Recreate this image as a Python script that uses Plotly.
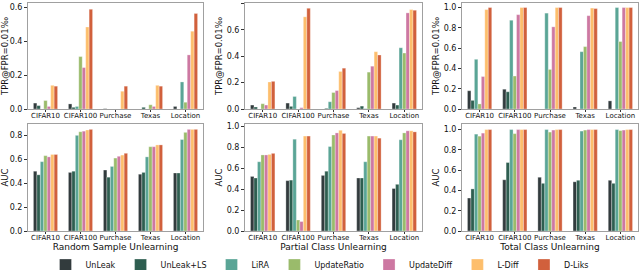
import plotly.graph_objects as go

datasets = ["CIFAR10", "CIFAR100", "Purchase", "Texas", "Location"]
methods = ["UnLeak", "UnLeak+LS", "LiRA", "UpdateRatio", "UpdateDiff", "L-Diff", "D-Liks"]
colors = ["#323b3d", "#2e5e50", "#5aa596", "#9abb6b", "#cd78a2", "#fdbe6c", "#d1603c"]

# values[method] -> list over datasets
rs_tpr = [
    [0.035, 0.03, 0.002, 0.0, 0.015],
    [0.02, 0.01, 0.0, 0.01, 0.0],
    [0.0, 0.015, 0.0, 0.0, 0.16],
    [0.05, 0.31, 0.0, 0.025, 0.04],
    [0.015, 0.245, 0.0, 0.015, 0.32],
    [0.14, 0.485, 0.105, 0.14, 0.46],
    [0.135, 0.59, 0.135, 0.135, 0.565],
]
rs_auc = [
    [0.50, 0.49, 0.51, 0.475, 0.485],
    [0.47, 0.50, 0.45, 0.49, 0.485],
    [0.58, 0.80, 0.54, 0.62, 0.765],
    [0.63, 0.83, 0.61, 0.705, 0.825],
    [0.62, 0.835, 0.625, 0.705, 0.85],
    [0.64, 0.845, 0.635, 0.72, 0.85],
    [0.64, 0.85, 0.65, 0.72, 0.85],
]
pc_tpr = [
    [0.03, 0.045, 0.0, 0.01, 0.045],
    [0.015, 0.02, 0.005, 0.022, 0.03],
    [0.0, 0.095, 0.055, 0.003, 0.465],
    [0.04, 0.0, 0.125, 0.28, 0.425],
    [0.03, 0.01, 0.14, 0.325, 0.73],
    [0.205, 0.70, 0.285, 0.435, 0.755],
    [0.21, 0.765, 0.31, 0.41, 0.75],
]
pc_auc = [
    [0.52, 0.48, 0.53, 0.505, 0.405],
    [0.505, 0.485, 0.57, 0.505, 0.445],
    [0.66, 0.875, 0.805, 0.66, 0.87],
    [0.725, 0.105, 0.915, 0.905, 0.935],
    [0.725, 0.09, 0.935, 0.905, 0.955],
    [0.73, 0.905, 0.96, 0.905, 0.955],
    [0.74, 0.905, 0.93, 0.885, 0.945],
]
tc_tpr = [
    [0.18, 0.195, 0.0, 0.02, 0.08],
    [0.085, 0.17, 0.0, 0.0, 0.0],
    [0.49, 0.875, 0.945, 0.565, 1.0],
    [0.05, 0.325, 0.39, 0.615, 0.665],
    [0.32, 0.93, 0.81, 0.92, 1.0],
    [0.98, 1.0, 1.0, 0.995, 1.0],
    [1.0, 1.0, 1.0, 0.99, 1.0],
]
tc_auc = [
    [0.325, 0.505, 0.53, 0.485, 0.50],
    [0.415, 0.675, 0.47, 0.50, 0.47],
    [0.955, 1.0, 1.0, 0.985, 1.0],
    [0.935, 0.96, 0.975, 0.995, 0.99],
    [0.965, 1.0, 0.995, 1.0, 0.995],
    [1.0, 1.0, 1.0, 1.0, 1.0],
    [1.0, 1.0, 1.0, 1.0, 1.0],
]
titles = ["Random Sample Unlearning", "Partial Class Unlearning", "Total Class Unlearning"]

W, H = 640, 270
xpix = [(28, 203), (245, 422), (462, 638)]
ypix_top = (3, 109)
ypix_bot = (124, 231)

panels = [
    (rs_tpr, rs_auc, [0, 0.627], [0, 0.895], [0, 0.2, 0.4, 0.6], [0, 0.2, 0.4, 0.6, 0.8]),
    (pc_tpr, pc_auc, [0, 0.805], [0, 1.02], [0, 0.2, 0.4, 0.6, 0.8], [0, 0.2, 0.4, 0.6, 0.8, 1.0]),
    (tc_tpr, tc_auc, [0, 1.045], [0, 1.055], [0, 0.2, 0.4, 0.6, 0.8, 1.0], [0, 0.2, 0.4, 0.6, 0.8, 1.0]),
]

fig = go.Figure()
layout = {}
font = "DejaVu Sans"
axn = 0
for p, (tpr, auc, r1, r2, t1, t2) in enumerate(panels):
    xd = [xpix[p][0] / W, xpix[p][1] / W]
    for row, (vals, rng, tv, ytitle) in enumerate([(tpr, r1, t1, "TPR@FPR=0.01‰"), (auc, r2, t2, "AUC")]):
        axn += 1
        xa = "x" if axn == 1 else f"x{axn}"
        ya = "y" if axn == 1 else f"y{axn}"
        ypx = ypix_top if row == 0 else ypix_bot
        yd = [1 - ypx[1] / H, 1 - ypx[0] / H]
        for m, name in enumerate(methods):
            fig.add_trace(go.Bar(
                x=datasets, y=vals[m], name=name, marker_color=colors[m],
                marker_line_width=0.3, marker_line_color="white",
                xaxis=xa, yaxis=ya, showlegend=(axn == 1), legendgroup=name,
            ))
        key = "" if axn == 1 else str(axn)
        layout["xaxis" + key] = dict(
            domain=xd, anchor=ya, showline=True, mirror=True, linecolor="#a0a0a0", linewidth=1,
            ticks="outside", ticklen=2, tickcolor="#333", tickangle=0, automargin=False,
            ticklabelstandoff=-2,
            tickfont=dict(size=7, color="#111", family=font),
            title=dict(text=titles[p] if row == 1 else "", font=dict(size=9, color="#111", family=font), standoff=0),
            showgrid=False,
        )
        layout["yaxis" + key] = dict(
            domain=yd, anchor=xa, range=rng, tickvals=tv, tickformat=".1f", automargin=False,
            showline=True, mirror=True, linecolor="#a0a0a0", linewidth=1,
            ticks="outside", ticklen=3, tickcolor="#333",
            tickfont=dict(size=8, color="#111", family=font),
            title=dict(text=ytitle, font=dict(size=8.5, color="#111", family=font), standoff=2),
            showgrid=False, zeroline=False,
        )

fig.update_layout(
    **layout,
    width=W, height=H, margin=dict(l=0, r=0, t=0, b=0, autoexpand=False),
    plot_bgcolor="white", paper_bgcolor="white",
    barmode="group", bargap=0.31, bargroupgap=0.0,
    font=dict(family=font, color="#111"),
    legend=dict(orientation="h", x=0.5, xanchor="center", y=5 / 270, yanchor="middle",
                font=dict(size=8, family=font), itemwidth=30, traceorder="normal",
                tracegroupgap=0, bgcolor="rgba(0,0,0,0)"),
)
fig.write_html("out.html", config={"displayModeBar": False},
               post_script="document.body.style.margin='0px';")
